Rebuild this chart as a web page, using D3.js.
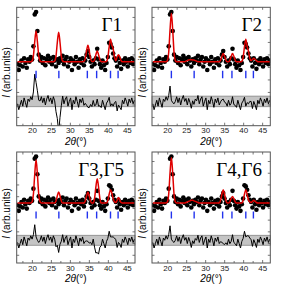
<!DOCTYPE html>
<html>
<head>
<meta charset="utf-8">
<script src="https://cdn.jsdelivr.net/npm/d3@7"></script>
<style>
  body { margin: 0; background: #fff; }
  svg { display: block; }
  .tick text { font-family: "Liberation Sans", Arial, sans-serif; font-size: 8px; fill: #222; }
  .tick line { stroke: #555; stroke-width: 0.8; }
</style>
</head>
<body>
<svg id="chart" width="287" height="288"></svg>
<script>
// 2theta grid (deg)
const twoTheta = [
  16.20,16.55,16.90,17.25,17.60,17.95,18.30,18.65,19.00,19.35,
  19.70,20.05,20.40,20.75,21.10,21.45,21.80,22.15,22.50,22.85,
  23.20,23.55,23.90,24.25,24.60,24.95,25.30,25.65,26.00,26.35,
  26.70,27.05,27.40,27.75,28.10,28.45,28.80,29.15,29.50,29.85,
  30.20,30.55,30.90,31.25,31.60,31.95,32.30,32.65,33.00,33.35,
  33.70,34.05,34.40,34.75,35.10,35.45,35.80,36.15,36.50,36.85,
  37.20,37.55,37.90,38.25,38.60,38.95,39.30,39.65,40.00,40.35,
  40.70,41.05,41.40,41.75,42.10,42.45,42.80,43.15,43.50,43.85,
  44.20,44.55,44.90,45.25,45.60,45.95,46.30,46.65,47.00
];

// measured intensity (same in all panels)
const observed = [
  52,47,51,55,50,57,53,49,56,54,
  58,56,67,94,96,80,60,55,58,53,
  57,51,56,59,54,57,52,58,55,50,
  56,53,57,55,59,52,56,58,50,54,
  57,47,55,52,58,54,49,56,53,57,
  51,55,60,63,58,54,50,55,52,57,
  65,56,52,49,55,51,47,53,58,70,
  69,66,61,57,55,50,57,53,48,55,
  52,57,54,50,56,53,57,52,55
];

// calculated patterns for each irrep model
const calcG1 = [
  54,54,54,54,54,54,54,54,54,54,
  54,54.6,59,71,80,71,59,54.6,54,54,
  54,54,54,54,54,54,54,54,54.5,58.7,
  70.5,79,70.5,58.7,54.5,54,54,54,54,54,
  54,54,54,54,54,54,54,54,54,54,
  54.3,56.6,63.2,68,63.2,56.6,54.3,54.2,55.7,60,
  63,60,55.7,54.2,54,54,54,54.4,57.6,66.5,
  73,68,65,58,55,58,60,58,55,54,
  54,54,54,54,54,54,54,54,54
];
const calcG2 = [
  54,54,54,54,54,54,54,54,54,54,
  54,55,62,81,95,81,62,55,54,54,
  54,54,54,54,54,54.5,55,55.5,55.8,55.8,
  55.5,55.5,55,54.5,54,54,54,54,54,54,
  54,54,54,54,54,54,54,54,54,54,
  54,55.3,58.6,61,58.6,55.3,54,54,55.3,58.6,
  61,58.6,55.3,54,54,54,54,54.4,57.6,66.5,
  73,67,63,57,55,56,57,56,55,54,
  54,54,54,54,54,54,54,54,54
];
const calcG35 = [
  54,54,54,54,54,54,54,54,54,54,
  54,55,62,80,93,80,62,55,54,54,
  54,54,54,54,54,54,54,54,54,55.9,
  60.6,64,60.6,55.9,54,54,54,54,54,54,
  54,54,54,54,54,54,54,54,54,54,
  54,55.9,60.6,64,60.6,55.9,54,54,58.2,68.5,
  76,68.5,58.2,54,54,54,54,54,56.3,61.9,
  66,63,58,55,54.5,56.5,59,56.5,54.5,54,
  54,54,54,54,54,54,54,54,54
];
const calcG46 = [
  54,54,54,54,54,54,54,54,54,54,
  54,55,62,81,95,81,62,55,54,54,
  54,54,54,54,54,54.5,55,55.5,56,56.5,
  56.5,56,55.5,55,54.5,54,54,54,54,54,
  54,54,54,54,54,54,54,54,54,54,
  54,56.3,61.9,66,61.9,56.3,54,54,55.1,58,
  60,58,55.1,54,54,54,54,54,56.3,61.9,
  66,62,57,55,54.5,55.5,56.5,55.5,54.5,54,
  54,54,54,54,54,54,54,54,54
];

// Bragg reflection positions
const reflections = [21.1, 27.1, 34.6, 37.05, 40.7, 42.7];
const xTicks = [20, 25, 30, 35, 40, 45];
const xMinorTicks = [17.5, 22.5, 27.5, 32.5, 37.5, 42.5];
const yTicks = [0, 1, 2, 3, 4, 5, 6, 7, 8];
const labels = ["Γ1", "Γ2", "Γ3,Γ5", "Γ4,Γ6"];

const diffOffset = 20.5;
const band = [16, 25];
const reflRange = [40, 46.5];

const layout = [
  {calc: calcG1,  left: 16.7, top: 7.3, w: 118.3, h: 118.4, lx: 122},
  {calc: calcG2,  left: 152,  top: 7.3, w: 118.3, h: 118.4, lx: 262},
  {calc: calcG35, left: 16.7, top: 152, w: 118.3, h: 111,   lx: 124},
  {calc: calcG46, left: 152,  top: 152, w: 118.3, h: 111,   lx: 262}
];

const svg = d3.select("#chart");

layout.forEach((p, k) => {
  let g = svg.append("g").attr("transform", `translate(${p.left},${p.top})`);

  let x = d3.scaleLinear([16, 47.15], [0, p.w]);
  let y = d3.scaleLinear([0, 100], [p.h, 0]);
  let yt = d3.scaleLinear([-0.7, 8.77], [p.h, 0]);

  let clipId = "clip" + k;
  g.append("clipPath").attr("id", clipId)
    .append("rect").attr("width", p.w).attr("height", p.h);

  // gray error band for the difference curve
  g.append("rect")
    .attr("x", 0).attr("width", p.w)
    .attr("y", y(band[1])).attr("height", y(band[0]) - y(band[1]))
    .attr("fill", "#c4c4c4").attr("stroke", "#7a7a7a").attr("stroke-width", 0.7);

  let plot = g.append("g").attr("clip-path", `url(#${clipId})`);

  // difference curve
  let diff = twoTheta.map((t, i) => [t, observed[i] - p.calc[i] + diffOffset]);
  plot.append("path")
    .datum(diff)
    .attr("d", d3.line().x(d => x(d[0])).y(d => y(d[1])))
    .attr("fill", "none").attr("stroke", "#000").attr("stroke-width", 1);

  // reflection ticks
  plot.selectAll(".refl").data(reflections).enter().append("line")
    .attr("class", "refl")
    .attr("x1", d => x(d)).attr("x2", d => x(d))
    .attr("y1", y(reflRange[0])).attr("y2", y(reflRange[1]))
    .attr("stroke", "#2233ee").attr("stroke-width", 1.4);

  // observed points
  plot.selectAll(".obs").data(twoTheta).enter().append("circle")
    .attr("class", "obs")
    .attr("cx", d => x(d))
    .attr("cy", (d, i) => y(observed[i]))
    .attr("r", 2.3)
    .attr("fill", "#000");

  // calculated curve
  plot.append("path")
    .datum(twoTheta.map((t, i) => [t, p.calc[i]]))
    .attr("d", d3.line().x(d => x(d[0])).y(d => y(d[1])).curve(d3.curveMonotoneX))
    .attr("fill", "none").attr("stroke", "#e00000").attr("stroke-width", 1.5);

  // axes (inward ticks on all sides)
  g.append("g").attr("transform", `translate(0,${p.h})`)
    .call(d3.axisBottom(x).tickValues(xTicks).tickSize(-3).tickPadding(2))
    .call(a => a.select(".domain").remove());
  g.append("g").attr("transform", `translate(0,${p.h})`)
    .call(d3.axisBottom(x).tickValues(xMinorTicks).tickSize(-2).tickFormat(""))
    .call(a => a.select(".domain").remove());
  g.append("g")
    .call(d3.axisTop(x).tickValues(xTicks.concat(xMinorTicks)).tickSize(-2.5).tickFormat(""))
    .call(a => a.select(".domain").remove());
  g.append("g")
    .call(d3.axisLeft(yt).tickValues(yTicks).tickSize(-2.5).tickFormat(""))
    .call(a => a.select(".domain").remove());
  g.append("g").attr("transform", `translate(${p.w},0)`)
    .call(d3.axisRight(yt).tickValues(yTicks).tickSize(-2.5).tickFormat(""))
    .call(a => a.select(".domain").remove());

  // frame
  g.append("rect")
    .attr("width", p.w).attr("height", p.h)
    .attr("fill", "none").attr("stroke", "#555").attr("stroke-width", 1);

  // panel label
  g.append("text")
    .attr("x", p.lx - p.left).attr("y", 24)
    .attr("text-anchor", "end")
    .style("font-family", "'Liberation Serif', 'Times New Roman', serif")
    .style("font-size", "19px")
    .text(labels[k]);

  // x title
  let xt = g.append("text")
    .attr("x", p.w / 2).attr("y", p.h + 19)
    .attr("text-anchor", "middle")
    .style("font-family", "'Liberation Sans', Arial, sans-serif")
    .style("font-size", "10px");
  xt.append("tspan").style("font-style", "italic").text("2θ");
  xt.append("tspan").text("(°)");

  // y title
  let ytl = g.append("text")
    .attr("transform", `translate(-6.5,${p.h / 2 + 6}) rotate(-90)`)
    .attr("text-anchor", "middle")
    .style("font-family", "'Liberation Sans', Arial, sans-serif")
    .style("font-size", "10px");
  ytl.append("tspan").style("font-style", "italic").text("I");
  ytl.append("tspan").text(" (arb.units)");
});
</script>
</body>
</html>
